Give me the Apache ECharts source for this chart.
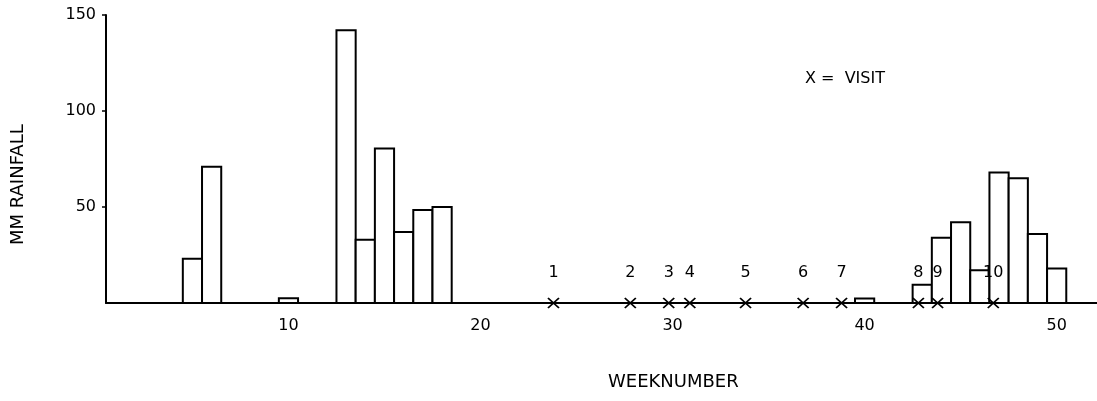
<!DOCTYPE html>
<html>
<head>
<meta charset="utf-8">
<script src="https://cdn.jsdelivr.net/npm/echarts@6/dist/echarts.min.js"></script>
<style>
  html, body { margin: 0; padding: 0; background: #fff; }
  #rain { width: 1097px; height: 401px; }
</style>
</head>
<body>
<div id="rain"></div>
<script>
// weekly rainfall (mm); weeks not listed are 0
var weeks = [5, 6, 10, 13, 14, 15, 16, 17, 18, 40, 43, 44, 45, 46, 47, 48, 49, 50];
var rainfall = [23, 71, 2.5, 142, 33, 80.5, 37, 48.5, 50, 2.3, 9.5, 34, 42, 17, 68, 65, 36, 18];
// visits, marked with an X on the baseline
var visitWeeks = [23.8, 27.8, 29.8, 30.9, 33.8, 36.8, 38.8, 42.8, 43.8, 46.7];
var visitNames = ['1', '2', '3', '4', '5', '6', '7', '8', '9', '10'];
var xTicks = [10, 20, 30, 40, 50];
var yTicks = [50, 100, 150];

var font = 'DejaVu Sans';
var rainChart = echarts.init(document.getElementById('rain'));

var barData = weeks.map(function (w, i) { return [w, rainfall[i]]; });
var visitData = visitWeeks.map(function (w, i) { return { value: [w, 0], name: visitNames[i] }; });

// each week is one full-width box, edge to edge with its neighbours
function renderWeekBar(params, api) {
    var w = api.value(0);
    var topLeft = api.coord([w - 0.5, api.value(1)]);
    var bottomRight = api.coord([w + 0.5, 0]);
    return {
        type: 'rect',
        shape: {
            x: topLeft[0],
            y: topLeft[1],
            width: bottomRight[0] - topLeft[0],
            height: bottomRight[1] - topLeft[1]
        },
        style: { fill: '#fff', stroke: '#000', lineWidth: 2 }
    };
}

var rainOption = {
    animation: false,
    backgroundColor: '#fff',
    grid: { left: 106, right: 0, top: 15, bottom: 98 },
    xAxis: {
        type: 'value',
        min: 0.5,
        max: 52.1,
        axisLine: { show: true, onZero: false, lineStyle: { color: '#000', width: 2 } },
        axisTick: { show: false },
        splitLine: { show: false },
        axisLabel: {
            customValues: xTicks,
            color: '#000',
            fontFamily: font,
            fontSize: 16,
            margin: 15
        }
    },
    yAxis: {
        type: 'value',
        min: 0,
        max: 150,
        interval: 50,
        axisLine: { show: true, lineStyle: { color: '#000', width: 2 } },
        axisTick: { show: true, customValues: yTicks, length: 4, lineStyle: { color: '#000', width: 1.5 } },
        splitLine: { show: false },
        axisLabel: {
            customValues: yTicks,
            color: '#000',
            fontFamily: font,
            fontSize: 16,
            margin: 10
        }
    },
    series: [
        {
            name: 'rainfall',
            type: 'custom',
            z: 2,
            silent: true,
            renderItem: renderWeekBar,
            encode: { x: 0, y: 1 },
            data: barData
        },
        {
            name: 'visit',
            type: 'scatter',
            z: 3,
            silent: true,
            symbol: 'path://M0,0L10,10M10,0L0,10',
            symbolSize: [11, 10],
            itemStyle: { color: 'none', borderColor: '#000', borderWidth: 1.8, opacity: 1 },
            label: {
                show: true,
                position: 'top',
                distance: 15,
                formatter: '{b}',
                color: '#000',
                fontFamily: font,
                fontSize: 16
            },
            data: visitData
        }
    ],
    graphic: [
        {
            type: 'text',
            left: 805,
            top: 71,
            style: { text: 'X =  VISIT', fill: '#000', font: '16px "DejaVu Sans"' }
        },
        {
            type: 'text',
            left: 608,
            top: 373,
            style: { text: 'WEEKNUMBER', fill: '#000', font: '18px "DejaVu Sans"' }
        },
        {
            type: 'text',
            x: 9,
            y: 245,
            rotation: Math.PI / 2,
            style: { text: 'MM RAINFALL', fill: '#000', font: '18px "DejaVu Sans"' }
        }
    ]
};

rainChart.setOption(rainOption);
window.addEventListener('resize', function () {
    rainChart.resize();
});
</script>
</body>
</html>
